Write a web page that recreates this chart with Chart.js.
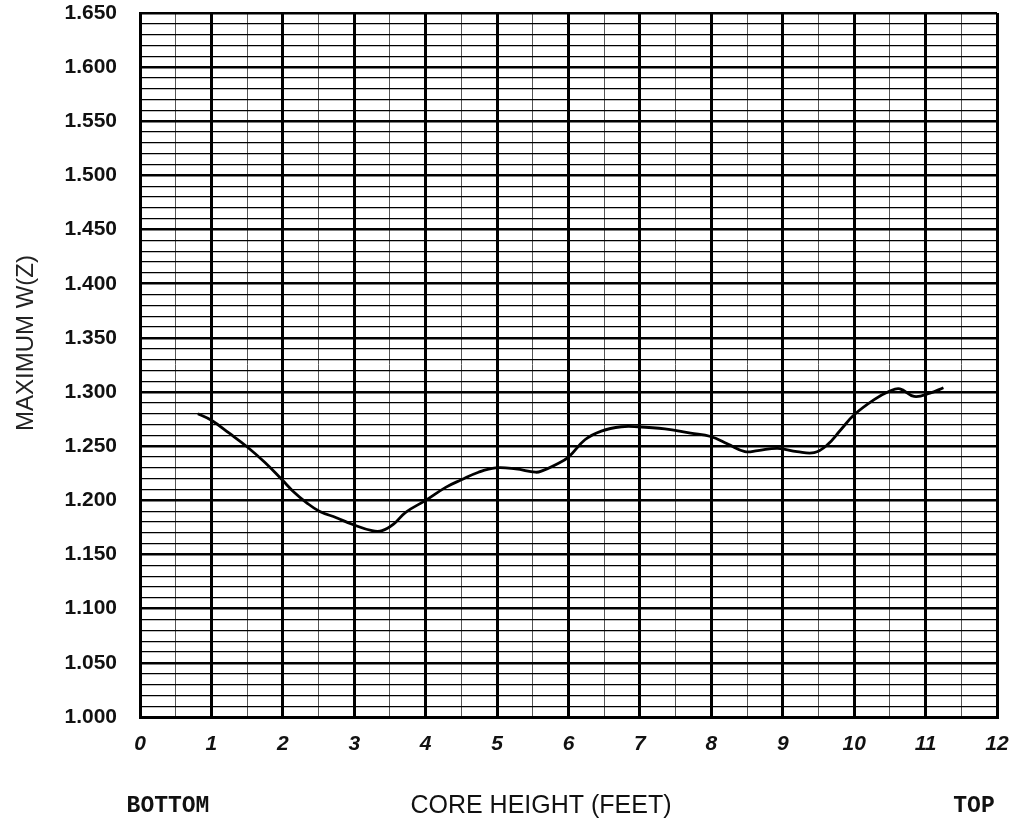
<!DOCTYPE html>
<html>
<head>
<meta charset="utf-8">
<script src="https://cdn.jsdelivr.net/npm/chart.js@4/dist/chart.umd.min.js"></script>
<style>
html,body{margin:0;padding:0;background:#fff;}
#wrap{position:relative;width:1017px;height:824px;}
</style>
</head>
<body>
<div id="wrap"><canvas id="c" width="1017" height="824"></canvas></div>
<script>
const coreHeightFt = [0.81, 1.0, 1.25, 1.49, 1.75, 1.99, 2.15, 2.33, 2.51, 2.75, 2.97, 3.25, 3.39, 3.55, 3.72, 4.0, 4.28, 4.5, 4.74, 4.98, 5.26, 5.54, 5.62, 5.82, 6.0, 6.23, 6.46, 6.74, 6.97, 7.35, 7.71, 7.99, 8.23, 8.47, 8.65, 8.93, 9.2, 9.44, 9.62, 9.81, 10.0, 10.28, 10.5, 10.64, 10.84, 11.06, 11.25];
const maxWz = [1.280, 1.274, 1.262, 1.250, 1.235, 1.219, 1.208, 1.198, 1.190, 1.184, 1.178, 1.172, 1.172, 1.178, 1.189, 1.200, 1.212, 1.219, 1.226, 1.230, 1.229, 1.226, 1.227, 1.233, 1.240, 1.256, 1.264, 1.268, 1.268, 1.266, 1.262, 1.259, 1.252, 1.245, 1.246, 1.248, 1.245, 1.244, 1.251, 1.265, 1.279, 1.293, 1.301, 1.303, 1.296, 1.299, 1.304];
const yTickValues = [1.000, 1.050, 1.100, 1.150, 1.200, 1.250, 1.300, 1.350, 1.400, 1.450, 1.500, 1.550, 1.600, 1.650];
const xTickValues = [0, 1, 2, 3, 4, 5, 6, 7, 8, 9, 10, 11, 12];
const yTitle = 'MAXIMUM W(Z)';
const xTitle = 'CORE HEIGHT (FEET)';
const leftNote = 'BOTTOM';
const rightNote = 'TOP';

const points = coreHeightFt.map((x, i) => ({x: x, y: maxWz[i]}));
const isMajorY = v => yTickValues.some(t => Math.abs(t - v) < 1e-6);
const isMajorX = v => xTickValues.some(t => Math.abs(t - v) < 1e-6);

const notes = {
  id: 'notes',
  afterDraw(chart) {
    const ctx = chart.ctx;
    ctx.save();
    ctx.fillStyle = '#111';
    ctx.textBaseline = 'middle';
    ctx.textAlign = 'center';
    ctx.font = 'bold 23px "Liberation Mono", "Courier New", monospace';
    ctx.fillText(leftNote, 168, 806);
    ctx.fillText(rightNote, 974, 806);
    ctx.font = '25px "Liberation Sans", Arial, sans-serif';
    ctx.fillText(xTitle, 541, 806);
    ctx.save();
    ctx.translate(26, 343);
    ctx.rotate(-Math.PI / 2);
    ctx.font = '24px "Liberation Sans", Arial, sans-serif';
    ctx.fillStyle = '#222';
    ctx.fillText(yTitle, 0, 0);
    ctx.restore();
    ctx.restore();
  }
};

new Chart(document.getElementById('c'), {
  type: 'scatter',
  data: {
    datasets: [{
      data: points,
      showLine: true,
      borderColor: '#000',
      borderWidth: 2.8,
      pointRadius: 0,
      tension: 0.4,
      fill: false
    }]
  },
  options: {
    responsive: false,
    animation: false,
    layout: {padding: {left: 0, right: 20, top: 13, bottom: 0}},
    plugins: {legend: {display: false}, tooltip: {enabled: false}},
    scales: {
      x: {
        type: 'linear',
        min: 0, max: 12,
        afterFit: s => { s.height = 107; s.paddingLeft = 0; s.paddingRight = 0; },
        border: {display: true, color: '#000', width: 3},
        grid: {
          drawTicks: false,
          color: c => isMajorX(c.tick.value) ? '#000' : '#555',
          lineWidth: c => isMajorX(c.tick.value) ? 3 : 1
        },
        ticks: {
          stepSize: 0.5,
          autoSkip: false,
          maxRotation: 0,
          padding: 15,
          color: '#111',
          font: {family: '"Liberation Sans", Arial, sans-serif', size: 21, weight: 'bold', style: 'italic'},
          callback: v => isMajorX(v) ? String(Math.round(v)) : ''
        }
      },
      y: {
        type: 'linear',
        min: 1.0, max: 1.65,
        afterFit: s => { s.width = 140; s.paddingTop = 0; s.paddingBottom = 0; },
        border: {display: true, color: '#000', width: 3},
        grid: {
          drawTicks: false,
          color: '#000',
          lineWidth: c => isMajorY(c.tick.value) ? 2.6 : 1.3
        },
        ticks: {
          stepSize: 0.01,
          autoSkip: false,
          padding: 23,
          color: '#111',
          font: {family: '"Liberation Sans", Arial, sans-serif', size: 21, weight: 'bold'},
          callback: v => isMajorY(v) ? v.toFixed(3) : ''
        }
      }
    }
  },
  plugins: [notes]
});
</script>
</body>
</html>
